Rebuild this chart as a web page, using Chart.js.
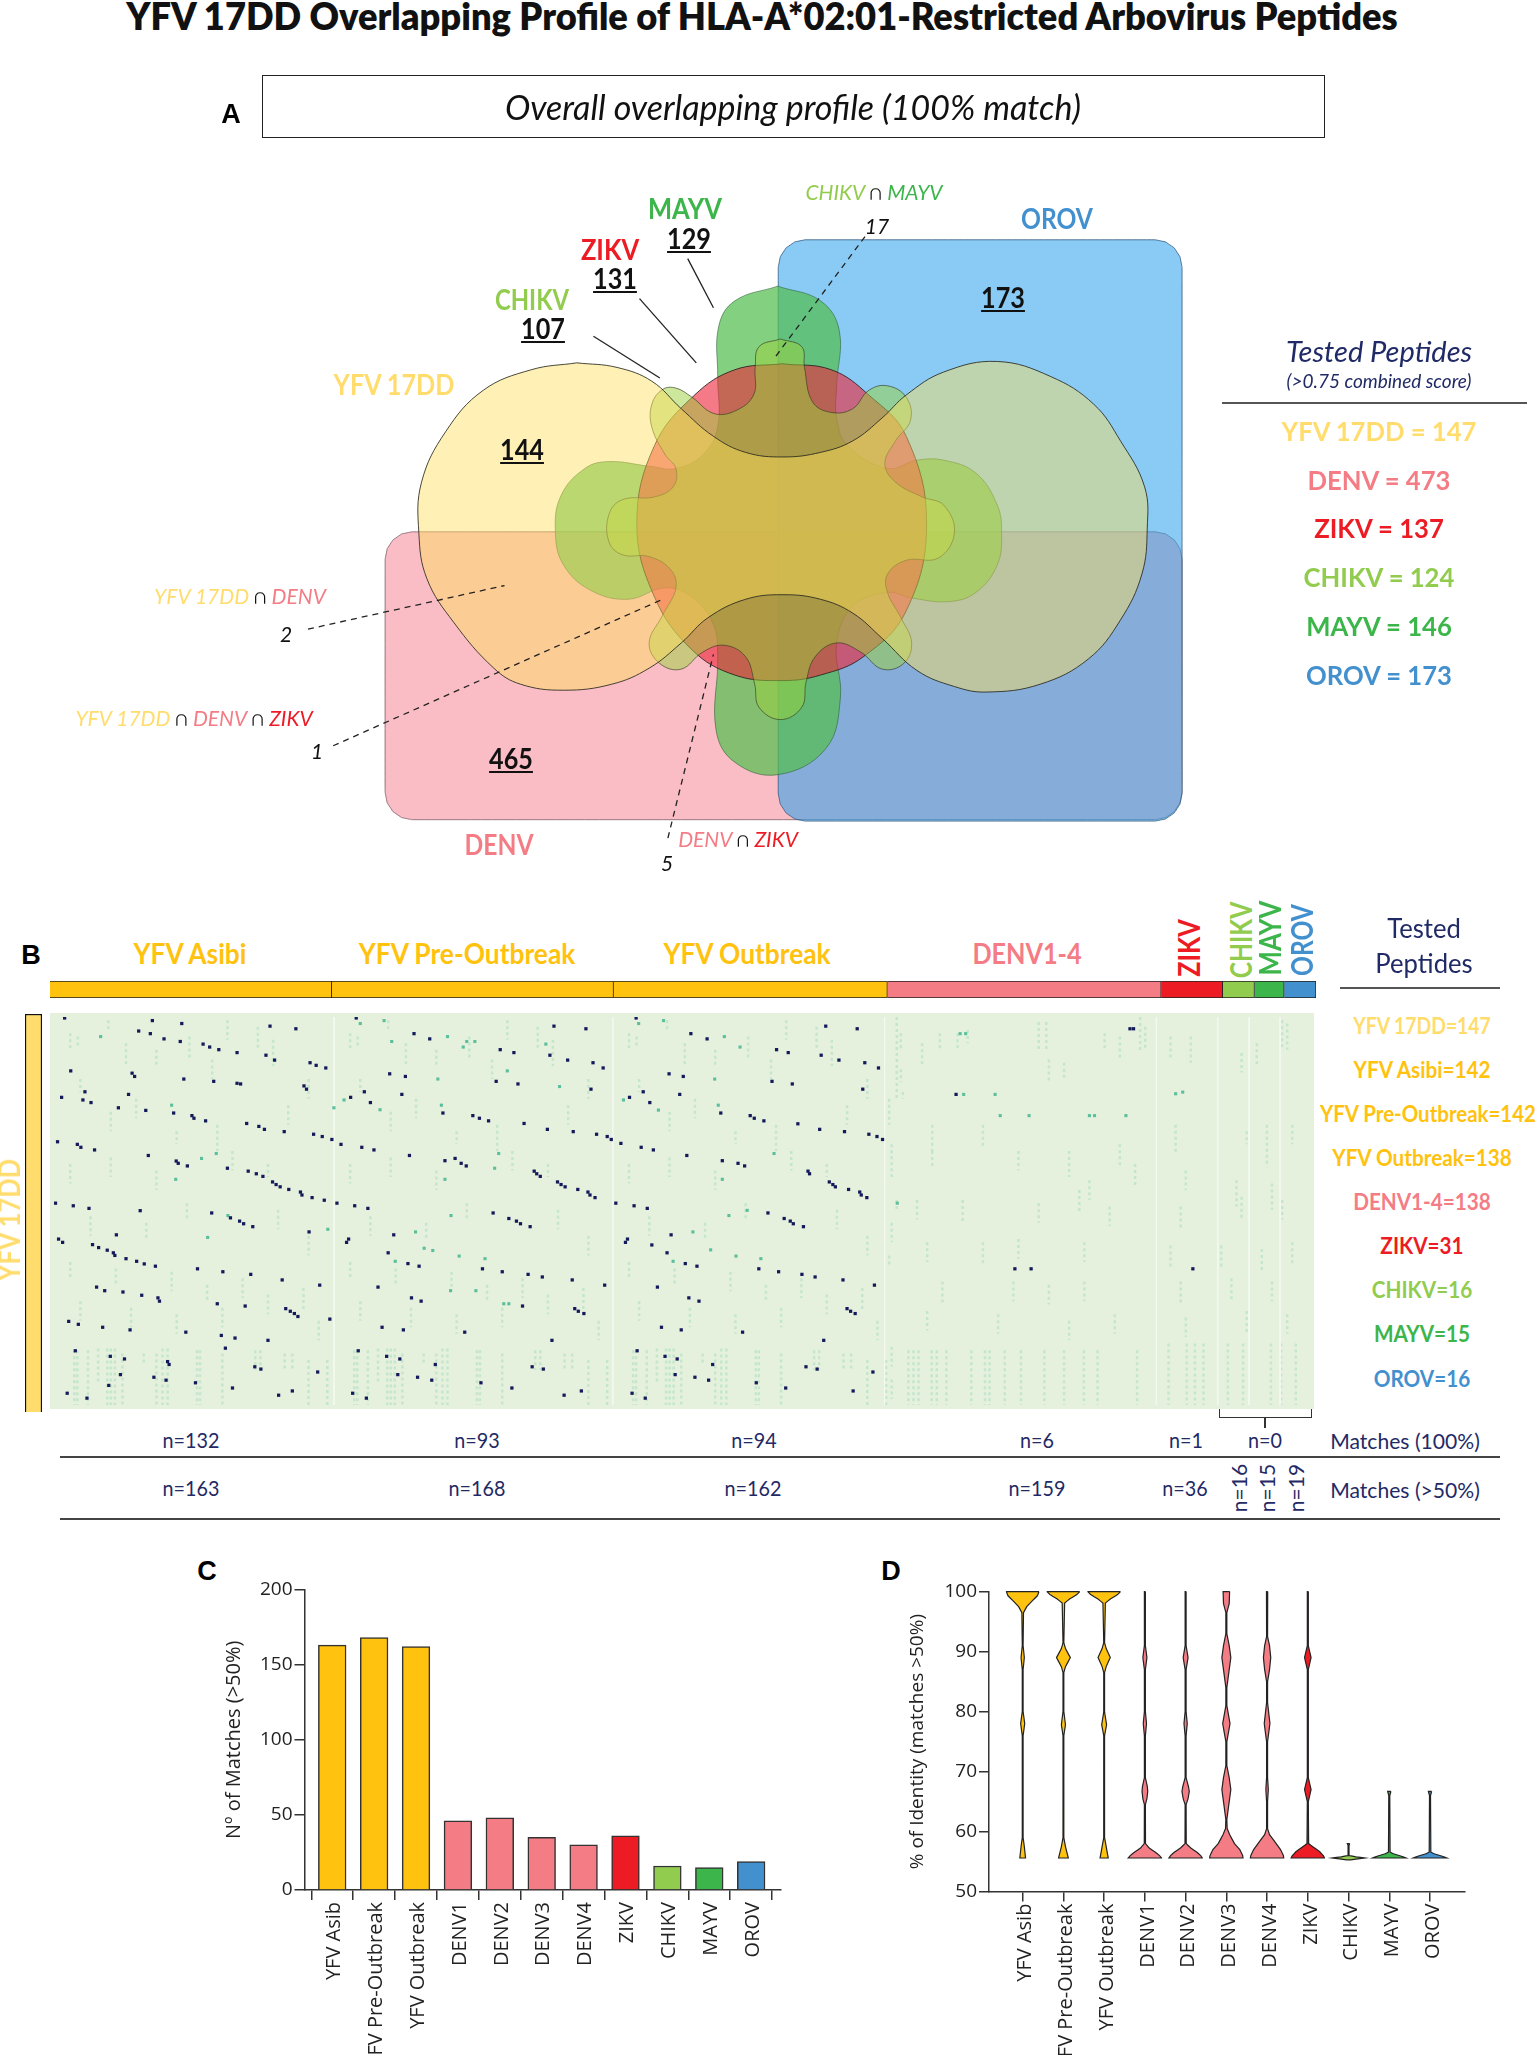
<!DOCTYPE html>
<html><head><meta charset="utf-8">
<script src="https://cdn.jsdelivr.net/npm/chart.js@4"></script>
<style>
html,body{margin:0;padding:0;background:#fff;width:1536px;height:2055px;overflow:hidden}
#page{position:relative;width:1536px;height:2055px;overflow:hidden}
canvas{position:absolute;display:block}
.t{position:absolute;white-space:nowrap;transform-origin:center;line-height:1;z-index:5}
.box{position:absolute;box-sizing:border-box;z-index:4}
</style></head><body><div id="page"></div>
<script>
// ---------- DATA ----------
const barLabels=['YFV Asib','YFV Pre-Outbreak','YFV Outbreak','DENV1','DENV2','DENV3','DENV4','ZIKV','CHIKV','MAYV','OROV'];
const barValues=[163,168,162,46,48,35,30,36,16,15,19];
const C_Y='#FFC20E',C_D='#F47C85',C_Z='#ED1C24',C_C='#92CC4E',C_M='#3CB54A',C_O='#4390CF',C_17='#FFDC6B',NAVY='#1F2A66';
const barColors=[C_Y,C_Y,C_Y,C_D,C_D,C_D,C_D,C_Z,C_C,C_M,C_O];
// violin outlines: [% identity, half width in category units]
const vAsib=[[100,.40],[99.3,.36],[98.5,.24],[97.5,.1],[96.5,.02],[91,.01],[89,.04],[87,.01],[80,.01],[78,.05],[76,.01],[59,.01],[57.5,.04],[55.6,.07]];
const vPre=[[100,.40],[99.5,.33],[98.8,.16],[98.1,.03],[91.5,.01],[90.5,.05],[89,.17],[87.5,.05],[86.5,.01],[80,.01],[79.5,.02],[77.8,.05],[76,.01],[59,.01],[57.5,.05],[55.6,.12]];
const vOut=[[100,.40],[99.5,.33],[98.8,.16],[98.1,.03],[91.5,.01],[90.5,.05],[89,.15],[87.5,.05],[86.5,.01],[80,.01],[79.5,.02],[77.8,.06],[76,.01],[59,.01],[57.5,.05],[55.6,.10]];
const vD1=[[100,.012],[91,.012],[89,.05],[87,.012],[80,.012],[78,.04],[76,.012],[69,.012],[67.5,.06],[66.7,.07],[65.5,.05],[64.5,.012],[58,.015],[57.3,.1],[56.6,.25],[56,.36],[55.6,.41]];
const vD2=[[100,.012],[91,.012],[89,.06],[87,.012],[80,.012],[78,.04],[76,.012],[69,.012],[67.5,.07],[66.7,.09],[65.5,.06],[64.5,.012],[58,.015],[57.3,.12],[56.6,.27],[56,.37],[55.6,.41]];
const vD3=[[100,.08],[98,.07],[96.5,.012],[93,.012],[91,.07],[89,.11],[87,.07],[84,.012],[81,.012],[78,.09],[75,.012],[71,.012],[69,.07],[67,.11],[65,.07],[62,.012],[60.5,.02],[59.5,.08],[58,.2],[57,.33],[56,.4],[55.6,.41]];
const vD4=[[100,.015],[92.5,.012],[91,.06],[89,.09],[87,.06],[85,.012],[81.5,.012],[78,.07],[75,.012],[69,.012],[67,.03],[65,.012],[60.5,.012],[59.5,.06],[58.5,.17],[57,.33],[56,.4],[55.6,.41]];
const vZ=[[100,.012],[91,.012],[89,.08],[87,.012],[69,.012],[67,.08],[65,.012],[58,.02],[57.4,.14],[56.6,.3],[56,.38],[55.6,.41]];
const vC=[[58,.03],[57.7,.012],[56,.012],[55.8,.18],[55.6,.40],[55.3,.05]];
const vM=[[66.7,.04],[66,.012],[56.6,.02],[56.3,.1],[55.9,.3],[55.6,.41]];
const vO=[[66.7,.04],[66,.012],[56.6,.02],[56.3,.1],[55.9,.3],[55.6,.41]];
const violins=[vAsib,vPre,vOut,vD1,vD2,vD3,vD4,vZ,vC,vM,vO];
// Venn outlines (diagram units)
const vennYFV=[[405,420],[320,435],[230,480],[160,570],[115,680],[110,790],[125,890],[175,985],[250,1085],[300,1120],[380,1133],[470,1120],[540,1085],[600,1030],[650,975],[720,935],[790,925],[860,935],[920,965],[975,1020],[1040,1090],[1110,1125],[1170,1137],[1270,1120],[1360,1065],[1420,980],[1460,880],[1470,780],[1465,690],[1420,590],[1370,510],[1290,450],[1190,417],[1090,440],[1020,490],[975,540],[920,590],[860,615],[790,625],[720,615],[660,580],[600,520],[545,460],[480,430],[405,420]];
const vennZIKV=[[788,422],[880,435],[950,490],[1020,580],[1058,770],[1020,960],[940,1060],[860,1100],[788,1112],[700,1100],[620,1045],[550,930],[517,770],[550,600],[625,490],[700,435],[788,422]];
const vennCHIKV=[[785,368],[745,385],[738,430],[735,490],[700,525],[660,530],[620,495],[590,475],[565,478],[545,510],[545,560],[570,620],[590,650],[585,690],[550,712],[490,718],[465,750],[465,810],[490,838],[540,842],[580,870],[590,910],[565,970],[540,1030],[560,1075],[600,1087],[640,1050],[680,1035],[720,1060],[737,1120],[745,1170],[785,1197],[825,1170],[833,1115],[850,1060],[890,1030],[935,1050],[975,1087],[1015,1075],[1030,1030],[1010,975],[985,920],[985,880],[1020,850],[1080,845],[1110,790],[1090,730],[1050,712],[1000,680],[980,640],[1000,590],[1028,545],[1020,495],[985,470],[950,480],[920,520],[880,528],[845,505],[830,430],[825,385],[785,368]];
const vennMAYV=[[780,253],[860,285],[895,350],[890,470],[890,540],[910,600],[985,650],[1040,632],[1090,632],[1150,660],[1190,730],[1198,790],[1190,860],[1150,920],[1100,940],[1030,932],[985,920],[920,950],[890,1030],[897,1150],[870,1260],[780,1317],[700,1290],[665,1220],[668,1060],[660,990],[620,930],[570,910],[500,935],[430,915],[380,860],[365,790],[375,710],[420,650],[465,635],[540,645],[590,650],[640,620],[668,560],[668,450],[670,340],[700,285],[780,253]];
const vennDENV=[47,788,1535,1415];
const vennOROV=[781,152,1535,1418];
const leadersDashed=[[[-97,1000],[270,905]],[[-50,1254],[565,935]],[[575,1455],[660,1055]],[[943,145],[775,408]]];
const leadersSolid=[[[612,193],[660,300]],[[522,280],[628,420]],[[436,362],[560,453]]];
// heat map: strips and cells
const stripCounts=[142,142,138,138,31,16,15,16];
const stripColors=[C_Y,C_Y,C_Y,C_D,C_Z,C_C,C_M,C_O];
const heatDarkAsibi=[[119,373],[292,381],[350,390],[524,398],[575,406],[265,413],[288,421],[315,437],[347,445],[392,453],[405,462],[423,470],[459,479],[516,487],[533,502],[603,510],[615,518],[634,526],[131,535],[252,542],[257,552],[354,560],[413,567],[459,573],[466,575],[591,581],[596,591],[159,599],[245,607],[113,616],[155,624],[171,632],[225,648],[279,656],[334,664],[370,672],[374,680],[397,688],[478,696],[502,705],[513,714],[552,721],[610,729],[627,736],[646,745],[664,760],[105,752],[144,760],[151,769],[178,777],[284,794],[339,811],[343,818],[361,826],[440,833],[481,842],[497,850],[510,858],[529,875],[536,883],[544,890],[561,898],[584,906],[587,915],[607,923],[631,931],[101,940],[136,948],[167,956],[268,963],[409,970],[446,985],[464,995],[472,1003],[490,1012],[601,1028],[221,1037],[107,1050],[115,1060],[174,1067],[186,1076],[203,1084],[215,1092],[218,1100],[240,1110],[261,1118],[276,1126],[298,1133],[381,1141],[431,1150],[486,1158],[548,1175],[182,1197],[198,1208],[622,1191],[234,1212],[271,1222],[303,1230],[306,1240],[420,1248],[475,1255],[555,1263],[564,1271],[572,1278],[579,1287],[642,1295],[127,1302],[146,1311],[194,1320],[248,1328],[358,1335],[428,1345],[455,1353],[520,1360],[436,1384],[140,1392],[209,1409],[237,1417],[322,1425],[325,1434],[494,1441],[506,1448],[618,1457],[229,1465],[295,1473],[319,1482],[377,1490],[206,1498],[450,1506],[568,1515],[124,1522],[541,1528],[163,1537]];
const heatDarkPre=[[694,373],[808,421],[839,437],[1084,398],[1147,406],[978,470],[1005,479],[1076,487],[1111,502],[1161,510],[1181,526],[760,544],[791,552],[970,567],[1013,575],[1157,591],[710,599],[784,607],[683,616],[722,632],[865,664],[924,672],[937,680],[955,688],[1025,696],[1071,714],[1122,721],[1168,729],[1189,736],[1197,745],[1216,757],[705,769],[729,777],[799,794],[869,810],[889,803],[901,818],[911,826],[1045,842],[1050,850],[1057,858],[1091,875],[1098,883],[1106,890],[1131,898],[1151,906],[1155,915],[1165,923],[656,940],[691,948],[717,956],[964,970],[995,987],[1010,995],[1018,1003],[1037,1012],[768,1037],[679,1050],[675,1060],[757,1092],[796,1125],[818,1133],[943,1141],[982,1150],[1033,1158],[1061,1166],[1120,1175],[1184,1191],[737,1197],[803,1230],[822,1240],[1022,1255],[1125,1263],[1132,1271],[1143,1278],[745,1320],[787,1328],[908,1335],[1080,1360],[698,1392],[754,1409],[780,1417],[850,1434],[1041,1441],[1063,1448],[776,1465],[815,1473],[843,1482],[940,1490],[1001,1506],[1138,1515],[687,1522],[1104,1528],[714,1537]];
const heatDarkOutbreak=[[1246,373],[1354,421],[1386,437],[1523,470],[1546,479],[1311,544],[1339,552],[1514,567],[1554,575],[1260,599],[1332,607],[1233,616],[1273,632],[1413,664],[1471,672],[1479,680],[1498,688],[1565,697],[1256,769],[1280,777],[1346,794],[1416,810],[1447,818],[1460,826],[1206,940],[1242,948],[1268,956],[1506,970],[1538,987],[1550,995],[1556,1003],[1315,1037],[1229,1050],[1225,1060],[1277,1068],[1307,1092],[1343,1125],[1366,1133],[1488,1141],[1527,1150],[1288,1197],[1350,1230],[1370,1240],[1296,1320],[1335,1328],[1456,1335],[1248,1392],[1303,1409],[1327,1417],[1397,1434],[1323,1465],[1362,1473],[1389,1482],[1483,1490],[1541,1506],[1238,1522],[1264,1537],[1620,398],[1682,406],[1611,487],[1646,502],[1697,510],[1724,526],[1693,591],[1608,714],[1657,721],[1705,729],[1721,736],[1732,745],[1585,842],[1588,850],[1627,875],[1634,883],[1639,890],[1665,898],[1687,906],[1690,915],[1701,923],[1576,1012],[1573,1158],[1599,1166],[1654,1175],[1716,1191],[1662,1263],[1669,1271],[1678,1278],[1616,1360],[1581,1441],[1603,1448],[1713,1457],[1674,1515]];
const heatDarkOther=[[2220,406],[2227,406],[1877,607],[1993,1141],[2025,1141],[2344,1141]];
const heatTeal=[[190,430],[749,381],[702,390],[874,430],[764,445],[928,445],[912,445],[905,462],[1068,453],[992,535],[855,560],[1095,583],[1420,430],[1451,462],[1251,390],[1300,381],[1401,560],[330,640],[862,640],[1221,624],[670,624],[650,648],[741,654],[1290,655],[1408,640],[418,788],[389,803],[975,788],[1518,788],[967,833],[338,867],[869,867],[1416,867],[441,978],[638,1020],[401,1045],[881,978],[1429,978],[1465,962],[811,1028],[1358,1028],[828,1078],[845,1085],[897,1102],[948,1110],[1393,1083],[1443,1102],[1492,1110],[771,1118],[1319,1118],[995,1248],[985,1248],[880,1208],[930,1208],[1885,421],[1896,421],[2310,605],[2324,600],[1892,607],[1954,607],[1964,672],[2021,672],[2140,672],[2150,672],[2212,672],[1761,940]];
const heatSeparators=[650,1200,1736,2272,2393,2455,2516];
// faint streaks [x, y from, y to]
const streakAsibi=[[138,1390,1558],[144,1390,1558],[165,1390,1558],[185,1385,1490],[203,1385,1558],[210,1385,1558],[218,1385,1558],[233,1400,1558],[275,1400,1430],[300,1400,1558],[312,1385,1558],[322,1385,1558],[380,1390,1558],[386,1390,1558],[430,1400,1558],[495,1390,1450],[505,1390,1450],[553,1400,1450],[568,1400,1450],[600,1420,1558],[637,1420,1558],[130,420,470],[145,430,460],[205,380,410],[240,450,520],[300,470,520],[365,430,500],[410,500,560],[440,380,440],[500,400,470],[530,440,520],[150,560,600],[210,660,720],[260,620,680],[340,720,760],[420,700,780],[560,640,700],[600,560,620],[130,820,880],[210,800,860],[300,840,900],[450,780,840],[520,820,860],[170,980,1040],[280,1000,1050],[360,940,990],[540,960,1020],[600,1040,1100],[130,1120,1170],[220,1140,1190],[330,1150,1210],[400,1190,1240],[470,1170,1230],[520,1220,1280],[150,1240,1300],[250,1260,1320],[340,1280,1340],[430,1260,1320],[590,1200,1270],[620,1300,1360]];
const streakOther=[[1760,370,620],[1768,420,470],[1768,530,570],[1772,600,620],[1745,620,700],[1750,760,860],[1760,930,960],[1750,1000,1060],[1745,1100,1130],[1750,1380,1440],[1750,1480,1540],[1783,1390,1558],[1793,1390,1558],[1803,1390,1558],[1829,1390,1558],[1839,1390,1558],[1858,1390,1558],[1907,1390,1558],[1934,1390,1558],[1943,1390,1558],[1973,1390,1558],[2005,1390,1558],[2051,1390,1558],[2090,1390,1558],[2129,1390,1558],[2156,1390,1558],[2234,1390,1558],[2296,1370,1558],[2332,1370,1558],[2348,1370,1558],[2365,1370,1558],[2413,1370,1558],[2443,1370,1558],[2498,1370,1558],[2518,1370,1558],[2547,1370,1558],[1845,420,470],[1880,420,470],[1900,410,450],[2040,385,470],[2055,385,470],[2240,370,480],[2250,400,470],[2520,380,470],[2530,390,470],[2060,500,570],[2090,510,560],[2170,420,470],[2200,430,500],[2300,430,500],[2340,430,510],[2440,480,540],[2470,450,520],[1810,450,520],[1830,700,790],[1930,700,770],[2100,780,860],[2200,760,830],[2310,700,790],[2450,720,760],[2490,700,830],[2540,700,760],[1830,780,830],[2000,780,840],[2140,870,930],[2230,820,890],[2330,840,900],[2430,870,950],[2500,880,960],[1800,930,990],[1890,930,1000],[2040,940,1000],[2120,900,970],[2180,950,1010],[2320,950,1020],[2440,920,990],[2520,930,990],[1820,1060,1120],[1930,1060,1130],[2000,1050,1110],[2130,1060,1120],[2300,1070,1140],[2400,1070,1140],[2480,1080,1150],[2540,1060,1130],[1850,1180,1250],[1990,1180,1240],[2060,1190,1250],[2130,1180,1240],[2320,1180,1250],[2420,1170,1240],[2500,1180,1240],[1820,1270,1330],[1960,1280,1340],[2100,1300,1360],[2190,1280,1340],[2330,1290,1350],[2450,1270,1340],[2530,1280,1340]];

// ---------- TEXT ----------
const F='Lato, sans-serif',OS='"Open Sans", sans-serif';
const texts=[
 ['YFV 17DD Overlapping Profile of HLA-A*02:01-Restricted Arbovirus Peptides',762,16,{s:37,w:800,c:'#111',sx:.98}],
 ['A',231,115,{s:27,w:700,f:'Liberation Sans',c:'#000'}],['B',31,956,{s:27,w:700,f:'Liberation Sans',c:'#000'}],
 ['C',207,1572,{s:27,w:700,f:'Liberation Sans',c:'#000'}],['D',891,1572,{s:27,w:700,f:'Liberation Sans',c:'#000'}],
 ['Overall overlapping profile (100% match)',793,107,{s:34,i:1,f:F,c:'#111'}],
 ['MAYV',685,208,{s:29,w:700,c:C_M,sx:.88}],['ZIKV',610,249,{s:29,w:700,c:C_Z,sx:.88}],['CHIKV',532,299,{s:29,w:700,c:C_C,sx:.82}],
 ['YFV 17DD',394,385,{s:28,w:700,c:C_17,sx:.9}],['OROV',1057,218,{s:29,w:700,c:C_O,sx:.85}],['DENV',499,845,{s:28,w:700,c:C_D,sx:.88}],
 ['<u>129</u>',689,239,{s:28,w:700,c:'#111',sx:.9}],['<u>131</u>',615,279,{s:28,w:700,c:'#111',sx:.9}],['<u>107</u>',543,329,{s:28,w:700,c:'#111',sx:.9}],
 ['<u>173</u>',1003,298,{s:28,w:700,c:'#111',sx:.9}],['<u>144</u>',522,450,{s:28,w:700,c:'#111',sx:.9}],['<u>465</u>',511,759,{s:28,w:700,c:'#111',sx:.9}],
 [`<span style="color:${C_C}">CHIKV</span> ∩ <span style="color:${C_M}">MAYV</span>`,874,192,{s:21,i:1}],['17',877,226,{s:21,i:1}],
 [`<span style="color:${C_D}">DENV</span> ∩ <span style="color:${C_Z}">ZIKV</span>`,738,839,{s:21,i:1}],['5',667,863,{s:21,i:1}],
 [`<span style="color:${C_17}">YFV 17DD</span> ∩ <span style="color:${C_D}">DENV</span>`,240,596,{s:21,i:1}],['2',286,634,{s:21,i:1}],
 [`<span style="color:${C_17}">YFV 17DD</span> ∩ <span style="color:${C_D}">DENV</span> ∩ <span style="color:${C_Z}">ZIKV</span>`,194,718,{s:21,i:1}],['1',317,751,{s:21,i:1}],
 ['Tested Peptides',1379,351,{s:29,i:1,c:NAVY}],['(&gt;0.75 combined score)',1379,381,{s:19,i:1,c:NAVY}],
 ['YFV 17DD = 147',1379,431,{s:27,w:700,c:C_17,sx:.95}],['DENV = 473',1379,480,{s:27,w:700,c:C_D,sx:.95}],['ZIKV = 137',1379,528,{s:27,w:700,c:C_Z,sx:.95}],
 ['CHIKV = 124',1379,577,{s:27,w:700,c:C_C,sx:.95}],['MAYV = 146',1379,626,{s:27,w:700,c:C_M,sx:.95}],['OROV = 173',1379,675,{s:27,w:700,c:C_O,sx:.95}],
 ['YFV Asibi',190,954,{s:28,w:700,c:C_Y,sx:.94}],['YFV Pre-Outbreak',467,954,{s:28,w:700,c:C_Y,sx:.94}],['YFV Outbreak',747,954,{s:28,w:700,c:C_Y,sx:.94}],['DENV1-4',1027,954,{s:28,w:700,c:C_D,sx:.9}],
 ['ZIKV',1188,949,{s:30,w:700,c:C_Z,r:-90,sx:.84}],['CHIKV',1240,941,{s:30,w:700,c:C_C,r:-90,sx:.82}],['MAYV',1269,939,{s:30,w:700,c:C_M,r:-90,sx:.86}],['OROV',1301,941,{s:30,w:700,c:C_O,r:-90,sx:.82}],
 ['YFV 17DD',8,1221,{s:31,w:700,c:C_17,r:-90,sx:.82}],
 ['Tested',1424,928,{s:27,c:NAVY,sx:.95}],['Peptides',1424,963,{s:27,c:NAVY,sx:.95}],
 ['YFV 17DD=147',1422,1026,{s:23,w:700,c:C_17,sx:.84}],['YFV Asibi=142',1422,1070,{s:23,w:700,c:C_Y,sx:.9}],['YFV Pre-Outbreak=142',1428,1114,{s:23,w:700,c:C_Y,sx:.89}],
 ['YFV Outbreak=138',1422,1158,{s:23,w:700,c:C_Y,sx:.9}],['DENV1-4=138',1422,1202,{s:23,w:700,c:C_D,sx:.9}],['ZIKV=31',1422,1246,{s:23,w:700,c:C_Z,sx:.9}],
 ['CHIKV=16',1422,1290,{s:23,w:700,c:C_C,sx:.9}],['MAYV=15',1422,1334,{s:23,w:700,c:C_M,sx:.9}],['OROV=16',1422,1379,{s:23,w:700,c:C_O,sx:.9}],
 ['n=132',191,1440,{s:21,c:NAVY,sx:.94}],['n=93',477,1440,{s:21,c:NAVY,sx:.94}],['n=94',754,1440,{s:21,c:NAVY,sx:.94}],['n=6',1037,1440,{s:21,c:NAVY,sx:.94}],['n=1',1186,1440,{s:21,c:NAVY,sx:.94}],['n=0',1265,1440,{s:21,c:NAVY,sx:.94}],
 ['Matches (100%)',1405,1441,{s:22,c:NAVY,sx:.96}],
 ['n=163',191,1488,{s:21,c:NAVY,sx:.94}],['n=168',477,1488,{s:21,c:NAVY,sx:.94}],['n=162',753,1488,{s:21,c:NAVY,sx:.94}],['n=159',1037,1488,{s:21,c:NAVY,sx:.94}],['n=36',1185,1488,{s:21,c:NAVY,sx:.94}],
 ['n=16',1238,1489,{s:21,c:NAVY,r:-90}],['n=15',1266,1489,{s:21,c:NAVY,r:-90}],['n=19',1295,1489,{s:21,c:NAVY,r:-90}],
 ['Matches (&gt;50%)',1405,1490,{s:22,c:NAVY,sx:.96}]
];
const rules=[[1222,402,305,1.5,'#555'],[1340,987,160,1.5,'#555'],[60,1456,1440,2,'#444'],[60,1518,1440,2,'#444']];

// ---------- HELPERS ----------
const page=document.getElementById('page');
texts.forEach(([h,x,y,o])=>{const d=document.createElement('div');d.className='t';d.innerHTML=h;
 d.style.cssText=`left:${x}px;top:${y-1}px;font:${o.i?'italic ':''}${o.w||400} ${o.s}px ${o.f||F};color:${o.c||'#111'};transform:translate(-50%,-50%) rotate(${o.r||0}deg) scaleX(${o.sx||1})`;page.appendChild(d);});
rules.forEach(([x,y,w,h,c])=>{const d=document.createElement('div');d.className='box';d.style.cssText=`left:${x}px;top:${y}px;width:${w}px;height:${h}px;background:${c}`;page.appendChild(d);});
const abox=document.createElement('div');abox.className='box';abox.style.cssText='left:262px;top:75px;width:1063px;height:63px;border:1.5px solid #222';page.appendChild(abox);
const br=document.createElement('div');br.className='box';br.style.cssText='left:1219px;top:1409px;width:93px;height:9px;border:1.5px solid #333;border-top:none';page.appendChild(br);
const br2=document.createElement('div');br2.className='box';br2.style.cssText='left:1264px;top:1418px;width:1.5px;height:10px;background:#333';page.appendChild(br2);
function mk(x,y,w,h){const c=document.createElement('canvas');c.width=w;c.height=h;c.style.left=x+'px';c.style.top=y+'px';c.style.width=w+'px';c.style.height=h+'px';page.appendChild(c);return c;}
const base={responsive:false,animation:false,devicePixelRatio:1,plugins:{legend:{display:false},tooltip:{enabled:false}},layout:{padding:0},events:[]};
const hidden={display:false};
function roundRect(x0,y0,x1,y1,rx,ry){const pts=[],A=[0,22.5,45,67.5,90];
 const corner=(cx,cy,sx,sy,rev)=>{(rev?A.slice().reverse():A).forEach(d=>{const t=d*Math.PI/180;pts.push([cx+sx*rx*Math.cos(t),cy+sy*ry*Math.sin(t)]);});};
 corner(x1-rx,y0+ry,1,-1,true);corner(x1-rx,y1-ry,1,1,false);corner(x0+rx,y1-ry,-1,1,true);corner(x0+rx,y0+ry,-1,-1,false);
 pts.push(pts[0]);return pts;}
const xy=a=>a.map(([x,y])=>({x,y}));
const AXC='#333';
function axisCommon(){return{grid:{drawOnChartArea:false,drawTicks:true,tickLength:10,color:AXC,lineWidth:1.5},border:{display:true,color:AXC,width:1.5}}}

// ---------- PANEL A: VENN ----------
const shape=(pts,fill,line,tension)=>({data:xy(pts),showLine:true,fill:'shape',backgroundColor:fill,borderColor:line,borderWidth:1,tension,pointRadius:0});
const seg=(p,dash)=>({data:xy(p),showLine:true,fill:false,borderColor:'#222',borderWidth:1.3,borderDash:dash,pointRadius:0,tension:0});
const vennBottomUp=[
 shape(roundRect(...vennDENV,50,60),'rgba(242,90,110,.4)','rgba(110,80,90,.7)',.001),
 shape(roundRect(...vennOROV,50,60),'rgba(40,160,235,.55)','rgba(50,90,130,.8)',.001),
 shape(vennMAYV,'rgba(85,190,80,.72)','rgba(40,90,50,.55)',.4),
 shape(vennZIKV,'rgba(235,40,60,.62)','rgba(40,30,30,.85)',.4),
 shape(vennCHIKV,'rgba(155,210,60,.5)','rgba(50,60,30,.65)',.4),
 shape(vennYFV,'rgba(255,225,90,.45)','rgba(40,40,30,.85)',.4),
 ...leadersDashed.map(p=>seg(p,[6,5])),...leadersSolid.map(p=>seg(p,[]))
];
new Chart(mk(0,120,1536,780),{type:'scatter',data:{datasets:vennBottomUp.slice().reverse()},options:{...base,clip:false,
 elements:{line:{capBezierPoints:false}},scales:{x:{...hidden,type:'linear',min:-672,max:2195.8},y:{...hidden,type:'linear',reverse:true,min:-108.9,max:1589.9}}}});

// ---------- PANEL B ----------
new Chart(mk(50,981,1266,17),{type:'bar',data:{labels:['p'],datasets:stripCounts.map((v,i)=>({data:[v],backgroundColor:stripColors[i],borderColor:'#222',borderWidth:1,barPercentage:1,categoryPercentage:1}))},
 options:{...base,indexAxis:'y',scales:{x:{...hidden,stacked:true,min:0,max:638},y:{...hidden,stacked:true}}}});
new Chart(mk(25,1014,17,398),{type:'bar',data:{labels:['YFV 17DD'],datasets:[{data:[147],backgroundColor:C_17,borderColor:'#111',borderWidth:1.5,barPercentage:1,categoryPercentage:1}]},
 options:{...base,scales:{x:hidden,y:{...hidden,min:0,max:147}}}});
const heatC=mk(50,1013,1264,396);heatC.style.background='#E5F1DD';
const gapped=list=>{const p=[];list.forEach(([x,a,b])=>p.push({x,y:a},{x,y:b},{x:null,y:null}));return p;};
const sepPts=gapped(heatSeparators.map(x=>[x,370,1558]));
const streakPts=gapped([...streakAsibi,...streakAsibi.map(([x,a,b])=>[x+552,a,b]),...streakAsibi.map(([x,a,b])=>[x+1102,a,b]),...streakOther]);
const dots=(a,c,r)=>({data:xy(a),backgroundColor:c,borderWidth:0,pointStyle:'rect',pointRadius:r});
new Chart(heatC,{type:'scatter',data:{datasets:[
 dots(heatDarkAsibi,'#14195A',2.3),dots(heatDarkPre,'#14195A',2.3),dots(heatDarkOutbreak,'#14195A',2.3),dots(heatDarkOther,'#14195A',2.3),dots(heatTeal,'#5BBF9C',2.2),
 {data:sepPts,showLine:true,borderColor:'#F4F9F0',borderWidth:1,pointRadius:0,spanGaps:false},
 {data:streakPts,showLine:true,borderColor:'rgba(120,205,165,.3)',borderWidth:2.5,borderDash:[3,3],pointRadius:0,spanGaps:false}]},
 options:{...base,scales:{x:{...hidden,type:'linear',min:98,max:2575},y:{...hidden,type:'linear',reverse:true,min:370,max:1558}}}});

// ---------- PANEL C ----------
const tickFont={family:'"Open Sans"',size:19};
const catFont={family:'"Open Sans"',size:20};
const titleFontD={family:'"Open Sans"',size:19};
new Chart(mk(222,1560,570,560),{type:'bar',data:{datasets:[{data:barValues.map((y,x)=>({x,y})),backgroundColor:barColors,borderColor:'#333',borderWidth:1.5,barThickness:27.7}]},
 options:{...base,layout:{padding:{top:29.6,right:11.5}},scales:{
 x:{type:'linear',offset:false,min:-.662,max:10.7,...axisCommon(),afterBuildTicks:s=>{s.ticks=barLabels.map((_,i)=>({value:i}))},afterFit:s=>{s.height=230},
    ticks:{autoSkip:false,maxRotation:90,minRotation:90,color:'#222',font:catFont,padding:2,labelOffset:2,callback:v=>barLabels[v]}},
 y:{min:0,max:200,afterFit:s=>{s.width=82.5},...axisCommon(),ticks:{stepSize:50,color:'#222',font:tickFont,padding:2},
    title:{display:true,text:'Nº of Matches (>50%)',color:'#222',font:catFont,padding:0}}}}});

// ---------- PANEL D ----------
const vCols=[C_Y,C_Y,C_Y,C_D,C_D,C_D,C_D,C_Z,C_C,C_M,C_O];
const vSets=violins.map((v,i)=>{const r=v.map(([y,w])=>({x:i+w,y})),l=v.slice().reverse().map(([y,w])=>({x:i-w,y}));
 const pts=[...r,...l,r[0]];return{data:pts,showLine:true,fill:'shape',backgroundColor:vCols[i],borderColor:'#222',borderWidth:1.2,pointRadius:0,tension:.001};});
new Chart(mk(906,1560,570,560),{type:'scatter',data:{datasets:vSets},options:{...base,clip:false,elements:{line:{capBezierPoints:false}},layout:{padding:{top:31.6,right:11.2}},scales:{
 x:{type:'linear',min:-.827,max:10.854,...axisCommon(),afterBuildTicks:s=>{s.ticks=barLabels.map((_,i)=>({value:i}))},afterFit:s=>{s.height=228.4},
    ticks:{autoSkip:false,maxRotation:90,minRotation:90,color:'#222',font:catFont,padding:2,labelOffset:3,callback:v=>barLabels[v]}},
 y:{min:50,max:100,afterFit:s=>{s.width=83},...axisCommon(),ticks:{stepSize:10,color:'#222',font:tickFont,padding:2},
    title:{display:true,text:'% of Identity (matches >50%)',color:'#222',font:titleFontD,padding:0}}}}});
</script></body></html>
